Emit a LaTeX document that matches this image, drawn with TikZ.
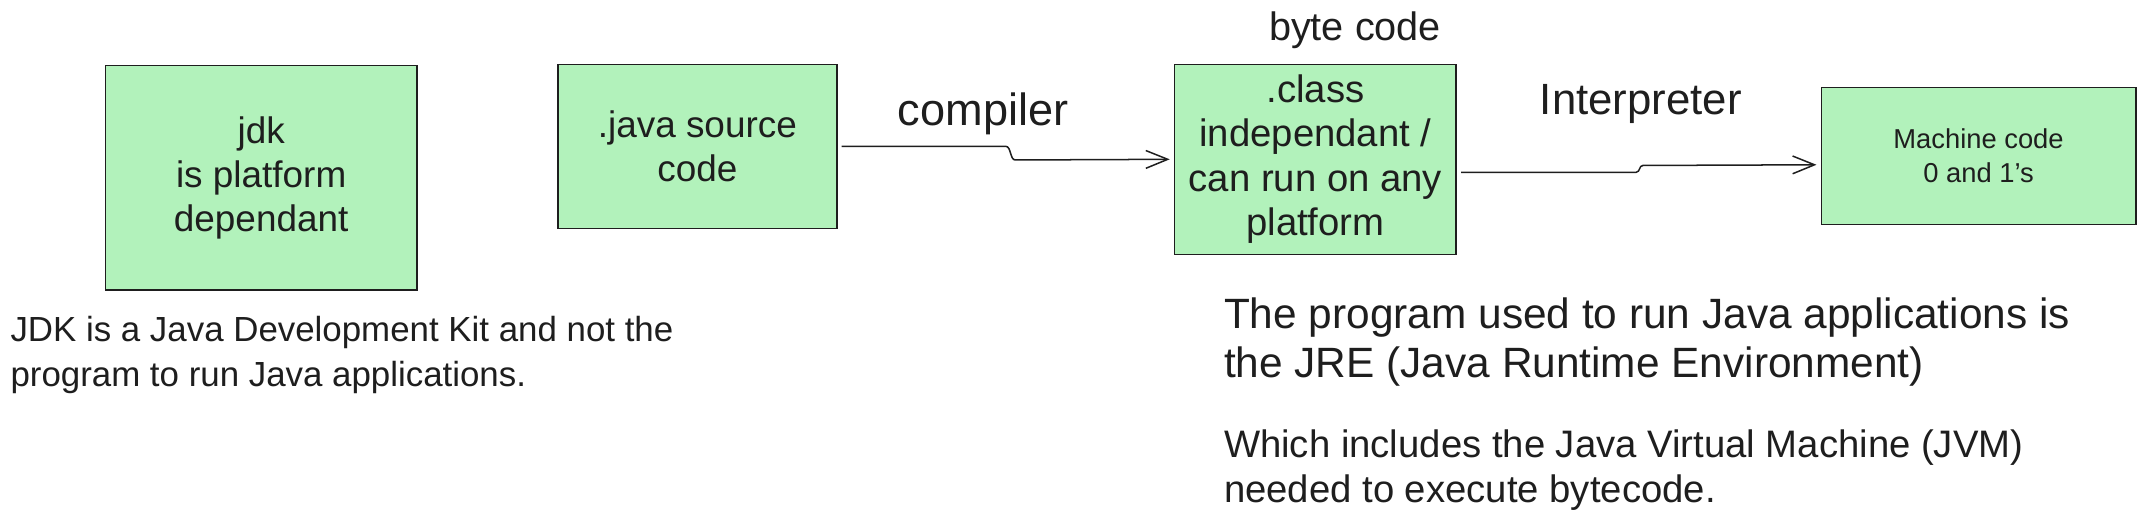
\documentclass[tikz,border=0pt]{standalone}
\usepackage{fontspec}
\setmainfont{Liberation Sans}
\usetikzlibrary{arrows.meta}
\definecolor{boxfill}{HTML}{B2F2BB}
\definecolor{ink}{HTML}{1E1E1E}
\tikzset{
  greenbox/.style={draw=ink, fill=boxfill, line width=1.1pt, align=center, inner sep=0pt, text=ink},
  arr/.style={draw=ink, line width=1.1pt, -{Straight Barb[length=16pt,width=13pt,line width=1.1pt]}, shorten <=3pt, shorten >=3pt},
  note/.style={align=left, inner sep=0pt, text=ink, anchor=west},
  lbl/.style={inner sep=0pt, text=ink}
}
\begin{document}
\begin{tikzpicture}[x=1pt,y=-1pt]
\useasboundingbox (0,0) rectangle (1568,384);
\node[greenbox, minimum width=228pt, minimum height=164pt, font={\fontsize{27}{32}\selectfont}] (jdk) at (191,130) {jdk\\is platform\\dependant};
\node[greenbox, minimum width=204pt, minimum height=120pt, font={\fontsize{27}{32}\selectfont}] (java) at (510,107) {.java source\\code};
\node[greenbox, minimum width=206pt, minimum height=139pt, font={\fontsize{28}{32.5}\selectfont}] (class) at (962,116.5) {.class\\independant /\\can run on any\\platform};
\node[greenbox, minimum width=230pt, minimum height=100pt, font={\fontsize{20}{25}\selectfont}] (mach) at (1447,114) {Machine code\\0 and 1's};

\node[lbl, font={\fontsize{33}{36}\selectfont}] (comp) at (719,83) {compiler};
\node[lbl, font={\fontsize{32}{36}\selectfont}] (interp) at (1200,76) {Interpreter};
\node[lbl, font={\fontsize{29}{34}\selectfont}] (bc) at (991,22) {byte code};

\draw[arr] (java.east) -- ++(123,0) .. controls +(4,0) and +(-4,0) .. ++(7,10) -- (class.west);
\draw[arr] ([yshift=-9.5pt]class.east) -- ++(131,0) .. controls +(3,0) and +(-3,0) .. ++(5,-5) -- ([yshift=-6.5pt]mach.west);

\node[note, font={\fontsize{25.5}{33}\selectfont}] (jdknote) at (7.5,259.5) {JDK is a Java Development Kit and not the\\program to run Java applications.};
\node[note, font={\fontsize{31}{36}\selectfont}] (jre) at (895,250) {The program used to run Java applications is\\the JRE (Java Runtime Environment)};
\node[note, font={\fontsize{28}{33}\selectfont}] (jvm) at (895,343.5) {Which includes the Java Virtual Machine (JVM)\\needed to execute bytecode.};
\end{tikzpicture}
\end{document}
